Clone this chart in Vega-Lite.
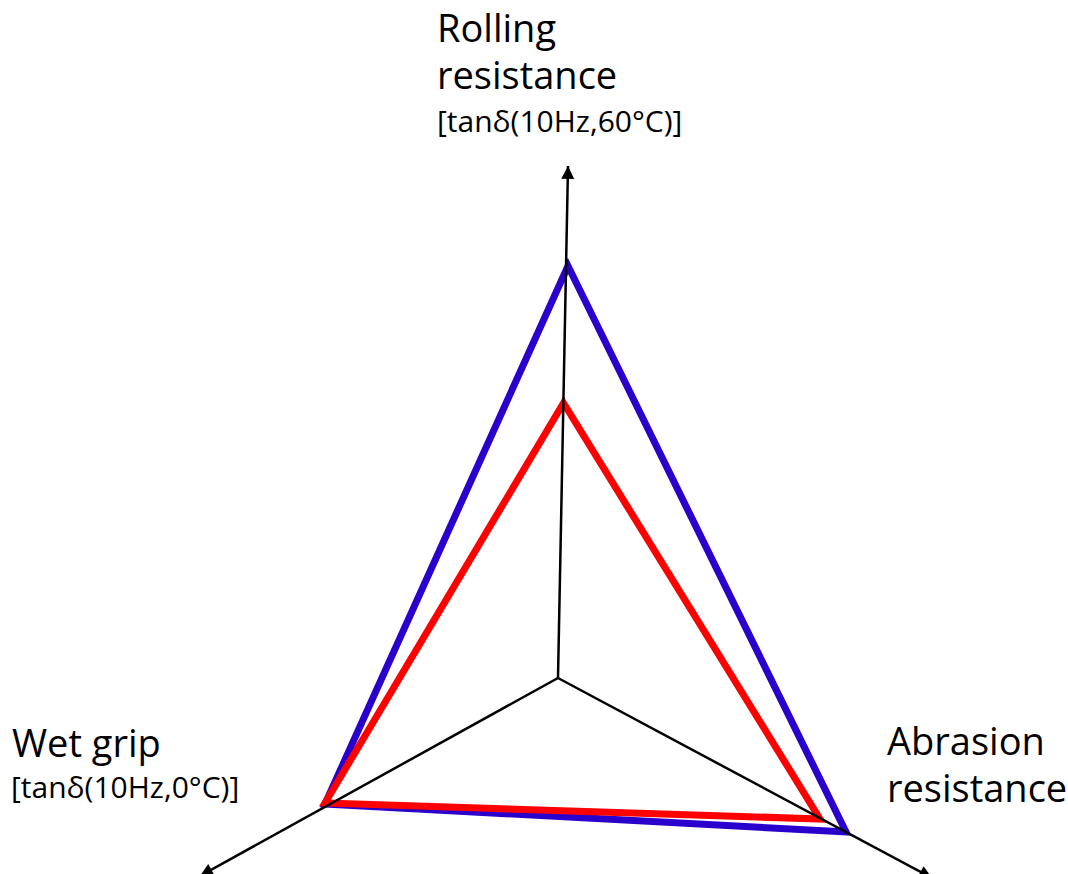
{
  "$schema": "https://vega.github.io/schema/vega-lite/v6.json",
  "width": 1068,
  "height": 874,
  "padding": 0,
  "autosize": {"type": "none"},
  "background": "white",
  "config": {"view": {"stroke": null}, "font": "Open Sans"},
  "datasets": {
    "axes": [
      {"axis": "Rolling resistance", "title": ["Rolling", "resistance"], "unit": "[tanδ(10Hz,60°C)]", "x": 10, "y": 512},
      {"axis": "Wet grip", "title": ["Wet grip"], "unit": "[tanδ(10Hz,0°C)]", "x": -358, "y": -198},
      {"axis": "Abrasion resistance", "title": ["Abrasion", "resistance"], "unit": "", "x": 374, "y": -200}
    ],
    "profiles": [
      {"compound": "Compound A", "axis": "Rolling resistance", "order": 1, "x": 10, "y": 412},
      {"compound": "Compound A", "axis": "Abrasion resistance", "order": 2, "x": 288, "y": -154},
      {"compound": "Compound A", "axis": "Wet grip", "order": 3, "x": -233, "y": -126},
      {"compound": "Compound B", "axis": "Rolling resistance", "order": 1, "x": 5.5, "y": 275},
      {"compound": "Compound B", "axis": "Abrasion resistance", "order": 2, "x": 262, "y": -141},
      {"compound": "Compound B", "axis": "Wet grip", "order": 3, "x": -233, "y": -125}
    ]
  },
  "layer": [
    {
      "data": {"name": "profiles"},
      "transform": [{"filter": "datum.compound === 'Compound A'"}],
      "mark": {"type": "line", "interpolate": "linear-closed", "stroke": "#2a00cc", "strokeWidth": 7, "strokeJoin": "miter"},
      "encoding": {
        "x": {"field": "x", "type": "quantitative", "scale": {"domain": [-558, 510], "nice": false, "zero": false}, "axis": null},
        "y": {"field": "y", "type": "quantitative", "scale": {"domain": [-196, 678], "nice": false, "zero": false}, "axis": null},
        "order": {"field": "order", "type": "quantitative"}
      }
    },
    {
      "data": {"name": "profiles"},
      "transform": [{"filter": "datum.compound === 'Compound B'"}],
      "mark": {"type": "line", "interpolate": "linear-closed", "stroke": "#ff0000", "strokeWidth": 7, "strokeJoin": "miter"},
      "encoding": {
        "x": {"field": "x", "type": "quantitative", "scale": {"domain": [-558, 510], "nice": false, "zero": false}, "axis": null},
        "y": {"field": "y", "type": "quantitative", "scale": {"domain": [-196, 678], "nice": false, "zero": false}, "axis": null},
        "order": {"field": "order", "type": "quantitative"}
      }
    },
    {
      "data": {"name": "axes"},
      "mark": {"type": "rule", "color": "black", "strokeWidth": 2.5},
      "encoding": {
        "x": {"field": "x", "type": "quantitative", "scale": {"domain": [-558, 510], "nice": false, "zero": false}, "axis": null},
        "y": {"field": "y", "type": "quantitative", "scale": {"domain": [-196, 678], "nice": false, "zero": false}, "axis": null},
        "x2": {"datum": 0},
        "y2": {"datum": 0}
      }
    },
    {
      "data": {"name": "axes"},
      "transform": [{"filter": "datum.axis === 'Rolling resistance'"}],
      "mark": {"type": "point", "shape": "M0,0L-1,2L1,2Z", "size": 169, "filled": true, "color": "black", "opacity": 1, "angle": 1.1},
      "encoding": {
        "x": {"field": "x", "type": "quantitative", "scale": {"domain": [-558, 510], "nice": false, "zero": false}, "axis": null},
        "y": {"field": "y", "type": "quantitative", "scale": {"domain": [-196, 678], "nice": false, "zero": false}, "axis": null}
      }
    },
    {
      "data": {"name": "axes"},
      "transform": [{"filter": "datum.axis === 'Wet grip'"}],
      "mark": {"type": "point", "shape": "M0,0L-1,2L1,2Z", "size": 169, "filled": true, "color": "black", "opacity": 1, "angle": 241},
      "encoding": {
        "x": {"field": "x", "type": "quantitative", "scale": {"domain": [-558, 510], "nice": false, "zero": false}, "axis": null},
        "y": {"field": "y", "type": "quantitative", "scale": {"domain": [-196, 678], "nice": false, "zero": false}, "axis": null}
      }
    },
    {
      "data": {"name": "axes"},
      "transform": [{"filter": "datum.axis === 'Abrasion resistance'"}],
      "mark": {"type": "point", "shape": "M0,0L-1,2L1,2Z", "size": 169, "filled": true, "color": "black", "opacity": 1, "angle": 118.1},
      "encoding": {
        "x": {"field": "x", "type": "quantitative", "scale": {"domain": [-558, 510], "nice": false, "zero": false}, "axis": null},
        "y": {"field": "y", "type": "quantitative", "scale": {"domain": [-196, 678], "nice": false, "zero": false}, "axis": null}
      }
    },
    {
      "data": {"name": "axes"},
      "transform": [{"filter": "datum.axis === 'Rolling resistance'"}],
      "mark": {"type": "text", "align": "left", "baseline": "alphabetic", "fontSize": 38, "lineHeight": 47, "color": "black", "dx": -131, "dy": -124},
      "encoding": {
        "x": {"field": "x", "type": "quantitative", "scale": {"domain": [-558, 510], "nice": false, "zero": false}, "axis": null},
        "y": {"field": "y", "type": "quantitative", "scale": {"domain": [-196, 678], "nice": false, "zero": false}, "axis": null},
        "text": {"field": "title", "type": "nominal"}
      }
    },
    {
      "data": {"name": "axes"},
      "transform": [{"filter": "datum.axis === 'Rolling resistance'"}],
      "mark": {"type": "text", "align": "left", "baseline": "alphabetic", "fontSize": 30, "color": "black", "dx": -131, "dy": -34},
      "encoding": {
        "x": {"field": "x", "type": "quantitative", "scale": {"domain": [-558, 510], "nice": false, "zero": false}, "axis": null},
        "y": {"field": "y", "type": "quantitative", "scale": {"domain": [-196, 678], "nice": false, "zero": false}, "axis": null},
        "text": {"field": "unit", "type": "nominal"}
      }
    },
    {
      "data": {"name": "axes"},
      "transform": [{"filter": "datum.axis === 'Wet grip'"}],
      "mark": {"type": "text", "align": "left", "baseline": "alphabetic", "fontSize": 38, "lineHeight": 47, "color": "black", "dx": -188, "dy": -119},
      "encoding": {
        "x": {"field": "x", "type": "quantitative", "scale": {"domain": [-558, 510], "nice": false, "zero": false}, "axis": null},
        "y": {"field": "y", "type": "quantitative", "scale": {"domain": [-196, 678], "nice": false, "zero": false}, "axis": null},
        "text": {"field": "title", "type": "nominal"}
      }
    },
    {
      "data": {"name": "axes"},
      "transform": [{"filter": "datum.axis === 'Wet grip'"}],
      "mark": {"type": "text", "align": "left", "baseline": "alphabetic", "fontSize": 30, "color": "black", "dx": -189, "dy": -78},
      "encoding": {
        "x": {"field": "x", "type": "quantitative", "scale": {"domain": [-558, 510], "nice": false, "zero": false}, "axis": null},
        "y": {"field": "y", "type": "quantitative", "scale": {"domain": [-196, 678], "nice": false, "zero": false}, "axis": null},
        "text": {"field": "unit", "type": "nominal"}
      }
    },
    {
      "data": {"name": "axes"},
      "transform": [{"filter": "datum.axis === 'Abrasion resistance'"}],
      "mark": {"type": "text", "align": "left", "baseline": "alphabetic", "fontSize": 38, "lineHeight": 47, "color": "black", "dx": -45, "dy": -123},
      "encoding": {
        "x": {"field": "x", "type": "quantitative", "scale": {"domain": [-558, 510], "nice": false, "zero": false}, "axis": null},
        "y": {"field": "y", "type": "quantitative", "scale": {"domain": [-196, 678], "nice": false, "zero": false}, "axis": null},
        "text": {"field": "title", "type": "nominal"}
      }
    }
  ]
}
